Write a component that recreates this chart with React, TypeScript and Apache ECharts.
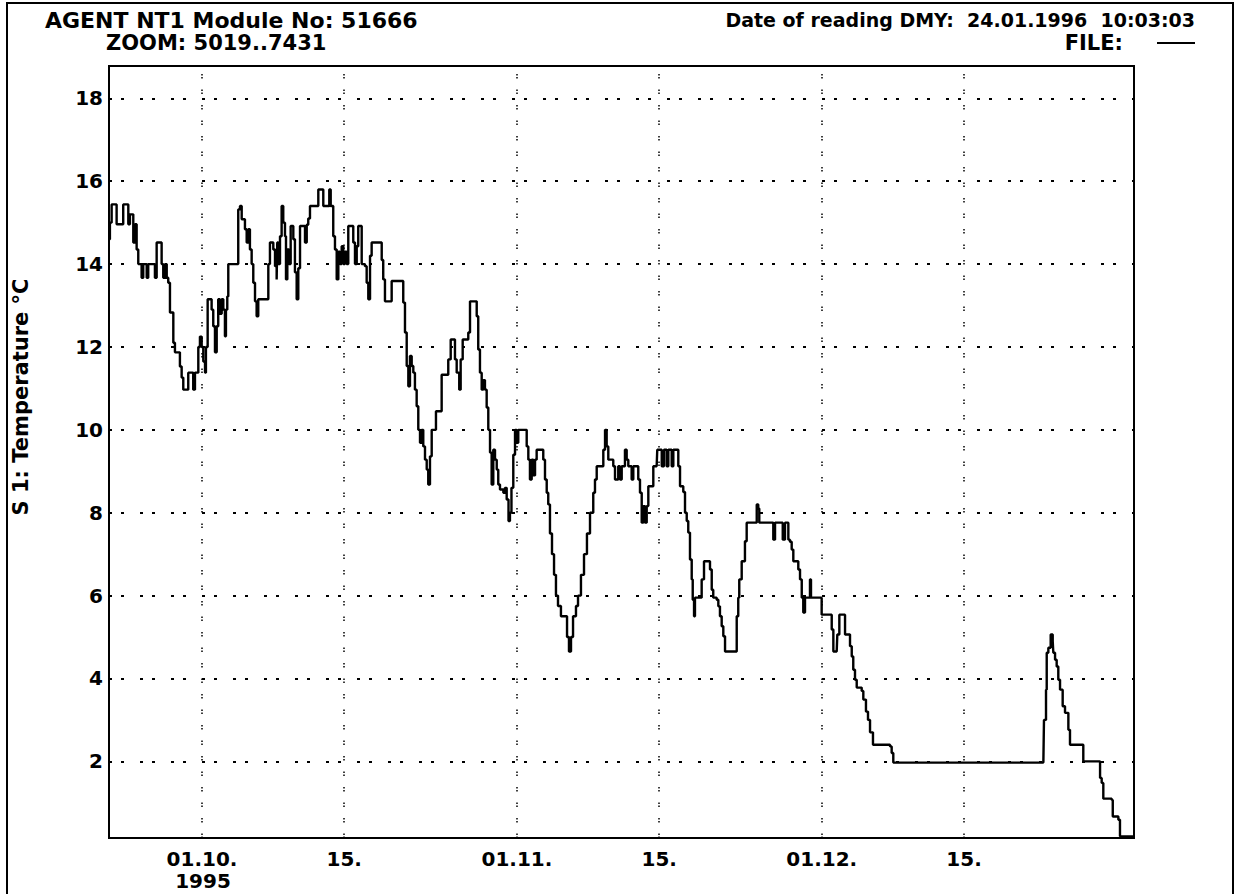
import React, { useEffect, useRef } from "react";
import * as echarts from "echarts";

// Time in days relative to 01.10.1995 00:00, temperature in °C
const days = [
  -9.15, -9.06, -8.89, -8.56, -8.4, -7.9, -7.75, -7.41, -7.25, -7.09, -6.76, -6.59, -6.43, -6.27, -6.1, -5.94,
  -5.78, -5.44, -5.29, -4.79, -4.63, -4.46, -4.13, -3.97, -3.81, -3.64, -3.47, -3.32, -3.15, -2.82, -2.66, -2.36,
  -2.17, -2.0, -1.84, -1.51, -1.35, -1.01, -0.86, -0.69, -0.36, -0.2, -0.03, 0.13, 0.3, 0.39, 0.56, 0.79,
  0.95, 1.11, 1.28, 1.45, 1.6, 1.77, 1.94, 2.1, 2.26, 2.36, 2.49, 2.59, 3.25, 3.57, 3.74, 3.91,
  4.23, 4.4, 4.56, 4.72, 4.89, 5.05, 5.22, 5.38, 5.54, 6.37, 6.53, 6.69, 7.02, 7.19, 7.35, 7.41,
  7.51, 7.68, 7.84, 8.0, 8.17, 8.27, 8.4, 8.56, 8.73, 8.99, 9.15, 9.32, 9.48, 9.65, 9.97, 10.14,
  10.31, 10.46, 10.63, 11.29, 11.45, 11.78, 11.94, 12.43, 12.53, 12.67, 12.92, 13.09, 13.26, 13.42, 13.58, 13.75,
  13.91, 14.07, 14.24, 14.4, 14.73, 14.89, 15.06, 15.23, 15.38, 15.55, 15.72, 16.04, 16.21, 16.37, 16.54, 16.7,
  17.52, 17.69, 17.84, 18.01, 18.5, 18.67, 19.66, 19.81, 19.98, 20.15, 20.31, 20.47, 20.64, 20.8, 20.96, 21.13,
  21.29, 21.46, 21.62, 21.78, 21.95, 22.12, 22.27, 22.44, 22.61, 22.93, 23.03, 23.43, 23.59, 24.08, 24.24, 24.48,
  24.73, 24.9, 25.07, 25.32, 25.46, 25.66, 26.11, 26.21, 26.38, 26.87, 27.04, 27.19, 27.36, 27.53, 27.69, 27.85,
  28.02, 28.18, 28.35, 28.51, 28.67, 28.84, 29.01, 29.16, 29.33, 29.66, 29.82, 29.99, 30.17, 30.31, 30.46, 30.64,
  30.81, 30.97, 31.13, 31.62, 31.96, 32.12, 32.28, 32.45, 32.61, 32.78, 32.94, 33.43, 33.59, 33.76, 33.93, 34.08,
  34.25, 34.45, 34.65, 34.84, 35.04, 35.33, 35.73, 35.93, 36.12, 36.32, 36.52, 36.81, 37.01, 37.3, 37.6, 37.89,
  38.19, 38.51, 38.68, 38.85, 39.34, 39.5, 39.67, 39.83, 39.99, 40.32, 40.48, 40.65, 40.97, 41.14, 41.31, 41.63,
  41.8, 41.96, 42.29, 42.45, 42.79, 42.94, 43.11, 43.28, 43.44, 43.6, 43.77, 43.93, 44.26, 44.42, 44.75, 44.81,
  45.08, 45.25, 45.47, 45.74, 45.9, 46.23, 46.39, 46.72, 46.88, 47.05, 47.37, 47.54, 47.71, 47.86, 48.03, 48.2,
  48.3, 48.43, 48.52, 49.02, 49.18, 49.41, 49.83, 50.0, 50.17, 50.32, 50.66, 50.82, 50.98, 51.15, 51.31, 51.48,
  52.46, 52.63, 52.78, 52.88, 53.12, 53.44, 53.61, 54.43, 54.6, 54.75, 54.85, 56.07, 56.23, 56.4, 57.06, 57.16,
  57.38, 57.71, 57.87, 58.04, 58.2, 58.53, 58.69, 58.86, 59.03, 59.18, 59.35, 59.67, 59.84, 59.94, 60.83, 60.99,
  61.81, 61.98, 62.14, 62.47, 62.53, 62.73, 63.12, 63.29, 63.61, 63.78, 63.95, 64.1, 64.27, 64.44, 64.93, 65.09,
  65.35, 65.55, 65.75, 66.04, 67.72, 67.88, 68.04, 82.81, 82.87, 83.07, 83.14, 83.3, 83.53, 83.73, 83.79, 83.96,
  84.12, 84.28, 84.45, 84.71, 84.94, 85.27, 85.43, 86.58, 86.74, 88.22, 88.39, 88.55, 88.71, 89.54, 89.64, 90.19,
  90.35, 91.73,
];

const temps = [
  14.6, 15.0, 15.44, 15.44, 14.96, 14.96, 15.44, 15.44, 14.96, 15.2, 14.52, 14.96, 14.35, 14.0, 14.0, 13.67,
  14.0, 13.67, 14.0, 14.0, 13.67, 14.52, 14.52, 14.0, 13.67, 14.0, 13.67, 13.55, 12.83, 12.1, 11.87, 11.87,
  11.53, 11.26, 10.97, 10.97, 11.38, 11.38, 10.97, 11.38, 12.0, 12.25, 12.0, 11.65, 11.38, 12.0, 13.15, 13.15,
  12.9, 12.5, 11.87, 12.5, 13.15, 12.8, 13.15, 12.9, 12.26, 12.9, 13.22, 14.0, 14.0, 15.32, 15.4, 15.08,
  14.84, 14.52, 14.84, 14.35, 14.0, 13.55, 13.1, 12.74, 13.15, 13.15, 14.0, 14.52, 14.35, 13.95, 13.63, 14.52,
  14.0, 14.67, 15.4, 15.0, 14.67, 13.63, 14.35, 14.0, 14.92, 14.6, 13.8, 13.15, 13.9, 14.92, 14.92, 14.52,
  14.95, 15.1, 15.4, 15.4, 15.8, 15.8, 15.4, 15.4, 15.8, 15.4, 14.67, 14.35, 13.63, 14.3, 14.0, 14.43,
  14.0, 14.3, 14.0, 14.92, 14.92, 14.52, 14.0, 14.43, 14.92, 14.92, 14.0, 13.95, 13.55, 13.15, 14.2, 14.52,
  14.52, 14.1, 13.63, 13.1, 13.1, 13.59, 13.59, 13.07, 12.35, 11.54, 11.05, 11.78, 11.54, 11.38, 10.97, 10.57,
  10.0, 9.69, 10.0, 9.6, 9.28, 9.04, 8.68, 9.36, 10.0, 10.0, 10.45, 10.45, 11.33, 11.33, 11.7, 12.18,
  12.18, 11.7, 11.38, 10.97, 11.7, 12.18, 12.18, 12.35, 13.1, 13.1, 12.74, 11.94, 11.38, 10.97, 11.2, 10.97,
  10.54, 10.0, 9.45, 8.68, 9.52, 9.28, 9.04, 8.68, 8.56, 8.48, 8.6, 8.32, 7.8, 8.0, 8.6, 9.4,
  10.0, 9.69, 10.0, 10.0, 9.6, 9.28, 8.8, 9.28, 8.9, 9.28, 9.52, 9.52, 9.28, 8.8, 8.48, 8.2,
  7.5, 7.0, 6.5, 6.0, 5.75, 5.5, 5.5, 5.0, 4.65, 5.0, 5.5, 5.75, 6.0, 6.5, 7.0, 7.5,
  8.0, 8.48, 8.8, 9.12, 9.12, 9.52, 10.0, 9.6, 9.28, 9.28, 9.12, 8.8, 9.12, 8.8, 9.12, 9.52,
  9.28, 9.12, 8.8, 9.12, 9.12, 8.8, 8.48, 7.76, 8.16, 7.76, 8.16, 8.64, 8.64, 9.12, 9.12, 9.52,
  9.52, 9.12, 9.52, 9.12, 9.52, 9.12, 9.52, 9.52, 9.12, 8.64, 8.5, 8.0, 7.8, 7.52, 6.87, 6.39,
  5.9, 5.5, 5.95, 5.95, 6.39, 6.83, 6.83, 6.63, 6.14, 5.95, 5.9, 5.74, 5.5, 5.26, 5.02, 4.65,
  4.65, 5.5, 5.95, 6.39, 6.83, 7.31, 7.76, 7.76, 8.2, 8.1, 7.76, 7.76, 7.35, 7.76, 7.76, 7.35,
  7.76, 7.35, 7.3, 7.11, 6.83, 6.83, 6.63, 6.39, 5.95, 5.59, 5.95, 5.95, 6.39, 5.95, 5.95, 5.54,
  5.54, 5.18, 4.65, 4.65, 5.06, 5.54, 5.54, 5.06, 5.06, 4.78, 4.53, 4.21, 3.97, 3.78, 3.7, 3.49,
  3.2, 3.0, 2.7, 2.4, 2.36, 2.2, 1.97, 1.97, 3.0, 3.73, 4.62, 4.74, 5.06, 4.9, 4.62, 4.45,
  4.29, 3.97, 3.73, 3.33, 3.17, 2.76, 2.4, 2.4, 2.0, 2.0, 1.6, 1.48, 1.1, 1.07, 0.67, 0.59,
  0.19, 0.19,
];

const tickDays = [0, 14, 31, 45, 61, 75];
const tickLabels = ["01.10.", "15.", "01.11.", "15.", "01.12.", "15."];
const yearLabel = "1995";
const yTicks = [2, 4, 6, 8, 10, 12, 14, 16, 18];

const titleLeft = "AGENT NT1 Module No: 51666";
const zoomText = "ZOOM: 5019..7431";
const dateText = "Date of reading DMY:  24.01.1996  10:03:03";
const fileText = "FILE:";
const yName = "S 1: Temperature °C";

const FONT = '"DejaVu Sans", "Liberation Sans", Arial, sans-serif';

export default function App() {
  const ref = useRef<HTMLDivElement>(null);

  useEffect(() => {
    document.body.style.margin = "0";
    if (!ref.current) return;
    const chart = echarts.init(ref.current, undefined, { renderer: "svg" });

    const labelStyle = {
      color: "#000",
      fontFamily: FONT,
      fontWeight: "bold" as const,
      fontSize: 20,
    };

    const txt = (text: string, x: number, y: number, align: string, size: number, rotation = 0) => ({
      type: "text",
      x,
      y,
      rotation,
      silent: true,
      style: {
        text,
        fill: "#000",
        font: `bold ${size}px ${FONT}`,
        textAlign: align,
        align,
        textVerticalAlign: "middle",
        verticalAlign: "middle",
      },
    });

    const option: any = {
      animation: false,
      backgroundColor: "#fff",
      grid: {
        left: 109,
        right: 107,
        top: 66,
        bottom: 56,
        show: true,
        borderColor: "#000",
        borderWidth: 2,
        backgroundColor: "transparent",
      },
      xAxis: {
        type: "value",
        min: -9.15,
        max: 91.73,
        axisLine: { show: false },
        axisTick: { show: false },
        splitLine: { show: false },
        axisLabel: {
          ...labelStyle,
          margin: 11,
          customValues: tickDays,
          formatter: (v: number) => {
            const i = tickDays.indexOf(v);
            return i >= 0 ? tickLabels[i] : "";
          },
        },
      },
      yAxis: {
        type: "value",
        min: 0.15,
        max: 18.78,
        axisLine: { show: false },
        axisTick: { show: false },
        splitLine: { show: false },
        axisLabel: {
          ...labelStyle,
          margin: 6,
          customValues: yTicks,
          formatter: (v: number) => (yTicks.indexOf(v) >= 0 ? String(v) : ""),
        },
      },
      series: [
        {
          type: "line",
          data: [],
          z: 1,
          silent: true,
          markLine: {
            silent: true,
            symbol: ["none", "none"],
            label: { show: false },
            emphasis: { disabled: true },
            data: [
              ...yTicks.map((v) => ({
                yAxis: v,
                lineStyle: { color: "#000", width: 2, type: [3, 9, 3, 16] },
              })),
              ...tickDays.map((d) => ({
                xAxis: d,
                lineStyle: { color: "#000", width: 1.5, type: [1.5, 1.5, 1.5, 11] },
              })),
            ],
          },
        },
        {
          type: "line",
          z: 3,
          step: "end",
          showSymbol: false,
          symbol: "none",
          silent: true,
          lineStyle: { color: "#000", width: 2.4 },
          data: days.map((d, i) => [d, temps[i]]),
        },
      ],
      graphic: [
        {
          type: "rect",
          silent: true,
          shape: { x: 7, y: 3, width: 1226, height: 930 },
          style: { fill: "none", stroke: "#000", lineWidth: 2 },
        },
        txt(titleLeft, 45, 20, "left", 22),
        txt(zoomText, 106, 43, "left", 21),
        txt(dateText, 1195, 20, "right", 19),
        txt(fileText, 1123, 43, "right", 21),
        {
          type: "line",
          silent: true,
          shape: { x1: 1157, y1: 43, x2: 1195, y2: 43 },
          style: { stroke: "#000", lineWidth: 2 },
        },
        txt(yearLabel, 203, 881, "center", 20),
        txt(yName, 21, 397, "center", 21, Math.PI / 2),
      ],
    };

    chart.setOption(option);
    return () => chart.dispose();
  }, []);

  return <div ref={ref} style={{ width: 1241, height: 894 }} />;
}
